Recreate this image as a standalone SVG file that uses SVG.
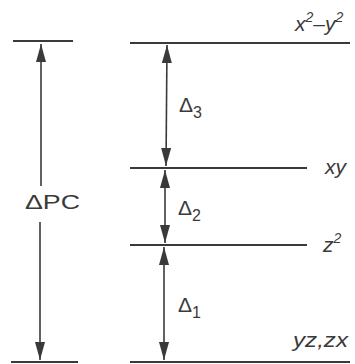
<svg xmlns="http://www.w3.org/2000/svg" width="355" height="364" viewBox="0 0 355 364">
<defs>
<style>
.lvl{stroke:#3a3a3a;stroke-width:2.2;fill:none}
.arr{stroke:#3a3a3a;stroke-width:1.6;fill:none}
.lab{font-family:"Liberation Sans",Arial,sans-serif;font-size:21px;fill:#3a3a3a}
.orb{font-family:"Liberation Sans",Arial,sans-serif;font-style:italic;font-size:21px;fill:#3a3a3a}
.sub{font-size:16px}
.sup{font-size:14px}
</style>
<marker id="ah" viewBox="0 0 18 10" refX="18" refY="5" markerWidth="18" markerHeight="10" markerUnits="userSpaceOnUse" orient="auto-start-reverse">
<path d="M0,0 L18,5 L0,10 Z" fill="#3a3a3a"/>
</marker>
</defs>
<rect width="355" height="364" fill="#fff"/>
<g id="levels">
<g id="pc-top"><line class="lvl" x1="13" y1="41" x2="73" y2="41"/></g>
<g id="pc-bottom"><line class="lvl" x1="11" y1="362" x2="78" y2="362"/></g>
<g id="x2y2"><line class="lvl" x1="130" y1="43" x2="350" y2="43"/><text class="orb" x="295" y="31">x<tspan class="sup" dy="-9">2</tspan><tspan dy="9">–y</tspan><tspan class="sup" dy="-9">2</tspan></text></g>
<g id="xy"><line class="lvl" x1="130" y1="168" x2="307" y2="168"/><text class="orb" x="325" y="174">xy</text></g>
<g id="z2"><line class="lvl" x1="130" y1="245" x2="307" y2="245"/><text class="orb" x="323" y="252">z<tspan class="sup" dy="-9">2</tspan></text></g>
<g id="yzzx"><line class="lvl" x1="130" y1="362" x2="350" y2="362"/><text class="orb" x="293" y="347" textLength="55" lengthAdjust="spacingAndGlyphs">yz,zx</text></g>
</g>
<g id="connectors">
<line class="arr" x1="41" y1="44" x2="41" y2="186" marker-start="url(#ah)"/>
<line class="arr" x1="40" y1="222" x2="40" y2="360" marker-end="url(#ah)"/>
<line class="arr" x1="167" y1="45" x2="166" y2="166" marker-start="url(#ah)" marker-end="url(#ah)"/>
<line class="arr" x1="165" y1="170" x2="165" y2="243" marker-start="url(#ah)" marker-end="url(#ah)"/>
<line class="arr" x1="164" y1="247" x2="164" y2="360" marker-start="url(#ah)" marker-end="url(#ah)"/>
</g>
<g id="labels">
<text class="lab" x="25" y="209" textLength="55" lengthAdjust="spacingAndGlyphs">ΔPC</text>
<text class="lab" x="179" y="112">Δ<tspan class="sub" dy="6">3</tspan></text>
<text class="lab" x="178" y="215">Δ<tspan class="sub" dy="6">2</tspan></text>
<text class="lab" x="178" y="312">Δ<tspan class="sub" dy="6">1</tspan></text>
</g>
</svg>
